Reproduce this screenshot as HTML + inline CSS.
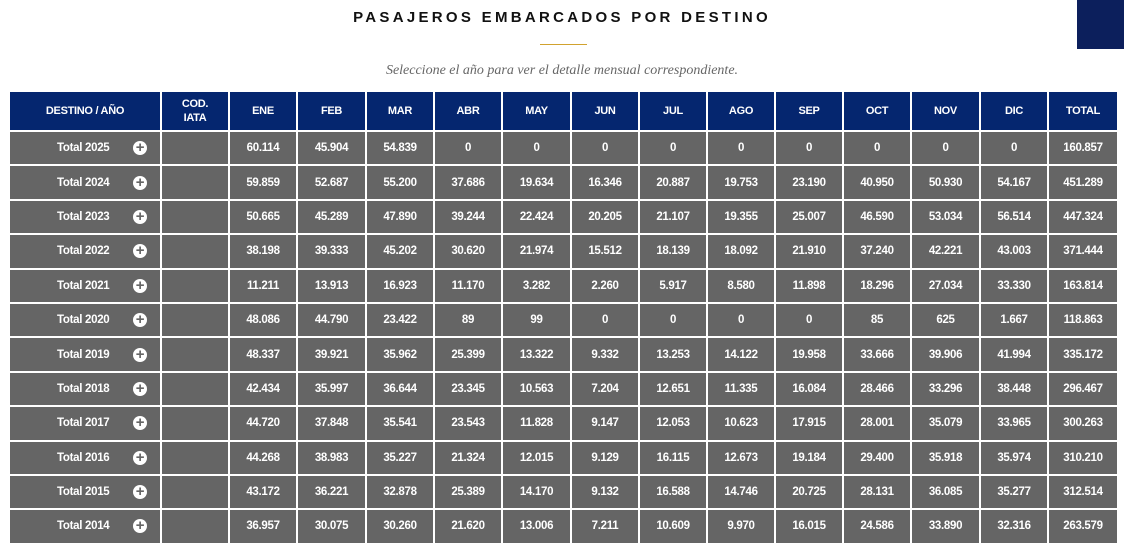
<!DOCTYPE html>
<html><head><meta charset="utf-8"><style>
body{margin:0;width:1124px;height:525px;overflow:hidden;background:#fff;font-family:"Liberation Sans",sans-serif;position:relative}
.t{position:absolute;top:9px;left:0;width:1124px;text-align:center;font-weight:bold;font-size:15px;letter-spacing:3.3px;color:#111}
.ln{position:absolute;top:44px;left:540px;width:47px;height:1px;background:#d1a22e}
.sub{position:absolute;top:63px;left:0;width:1124px;text-align:center;font-family:"Liberation Serif",serif;font-style:italic;font-size:14px;color:#666}
.sq{position:absolute;left:1077px;top:0;width:47px;height:49px;background:#0c1f5c}
.g{position:absolute;left:10px;top:92px;display:grid;grid-template-columns:150px 66px 66px 67px 66px 66px 67px 66px 66px 66px 66px 66px 67px 66px 68px;grid-template-rows:38px repeat(12,32.4px);gap:2px}
.g div{background:#656565;color:#fff;font-weight:bold;font-size:11.5px;display:flex;align-items:center;justify-content:center;letter-spacing:-0.3px}
.g div.h{background:#05266f;font-size:11px;text-align:center;line-height:14px}
.g div.f{justify-content:flex-start;padding-left:47px;position:relative}
.p{position:absolute;left:123px;top:50%;margin-top:-7px;width:14px;height:14px;border-radius:50%;background:#fff;color:#656565;font-size:15px;line-height:14px;text-align:center;font-weight:bold}
</style></head><body>
<div class="t">PASAJEROS EMBARCADOS POR DESTINO</div>
<div class="ln"></div>
<div class="sub">Seleccione el año para ver el detalle mensual correspondiente.</div>
<div class="sq"></div>
<div class="g" id="g">
<div class="h">DESTINO / AÑO</div><div class="h">COD.<br>IATA</div><div class="h">ENE</div><div class="h">FEB</div><div class="h">MAR</div><div class="h">ABR</div><div class="h">MAY</div><div class="h">JUN</div><div class="h">JUL</div><div class="h">AGO</div><div class="h">SEP</div><div class="h">OCT</div><div class="h">NOV</div><div class="h">DIC</div><div class="h">TOTAL</div>
<div class="f">Total 2025<span class="p">+</span></div><div></div><div>60.114</div><div>45.904</div><div>54.839</div><div>0</div><div>0</div><div>0</div><div>0</div><div>0</div><div>0</div><div>0</div><div>0</div><div>0</div><div>160.857</div>
<div class="f">Total 2024<span class="p">+</span></div><div></div><div>59.859</div><div>52.687</div><div>55.200</div><div>37.686</div><div>19.634</div><div>16.346</div><div>20.887</div><div>19.753</div><div>23.190</div><div>40.950</div><div>50.930</div><div>54.167</div><div>451.289</div>
<div class="f">Total 2023<span class="p">+</span></div><div></div><div>50.665</div><div>45.289</div><div>47.890</div><div>39.244</div><div>22.424</div><div>20.205</div><div>21.107</div><div>19.355</div><div>25.007</div><div>46.590</div><div>53.034</div><div>56.514</div><div>447.324</div>
<div class="f">Total 2022<span class="p">+</span></div><div></div><div>38.198</div><div>39.333</div><div>45.202</div><div>30.620</div><div>21.974</div><div>15.512</div><div>18.139</div><div>18.092</div><div>21.910</div><div>37.240</div><div>42.221</div><div>43.003</div><div>371.444</div>
<div class="f">Total 2021<span class="p">+</span></div><div></div><div>11.211</div><div>13.913</div><div>16.923</div><div>11.170</div><div>3.282</div><div>2.260</div><div>5.917</div><div>8.580</div><div>11.898</div><div>18.296</div><div>27.034</div><div>33.330</div><div>163.814</div>
<div class="f">Total 2020<span class="p">+</span></div><div></div><div>48.086</div><div>44.790</div><div>23.422</div><div>89</div><div>99</div><div>0</div><div>0</div><div>0</div><div>0</div><div>85</div><div>625</div><div>1.667</div><div>118.863</div>
<div class="f">Total 2019<span class="p">+</span></div><div></div><div>48.337</div><div>39.921</div><div>35.962</div><div>25.399</div><div>13.322</div><div>9.332</div><div>13.253</div><div>14.122</div><div>19.958</div><div>33.666</div><div>39.906</div><div>41.994</div><div>335.172</div>
<div class="f">Total 2018<span class="p">+</span></div><div></div><div>42.434</div><div>35.997</div><div>36.644</div><div>23.345</div><div>10.563</div><div>7.204</div><div>12.651</div><div>11.335</div><div>16.084</div><div>28.466</div><div>33.296</div><div>38.448</div><div>296.467</div>
<div class="f">Total 2017<span class="p">+</span></div><div></div><div>44.720</div><div>37.848</div><div>35.541</div><div>23.543</div><div>11.828</div><div>9.147</div><div>12.053</div><div>10.623</div><div>17.915</div><div>28.001</div><div>35.079</div><div>33.965</div><div>300.263</div>
<div class="f">Total 2016<span class="p">+</span></div><div></div><div>44.268</div><div>38.983</div><div>35.227</div><div>21.324</div><div>12.015</div><div>9.129</div><div>16.115</div><div>12.673</div><div>19.184</div><div>29.400</div><div>35.918</div><div>35.974</div><div>310.210</div>
<div class="f">Total 2015<span class="p">+</span></div><div></div><div>43.172</div><div>36.221</div><div>32.878</div><div>25.389</div><div>14.170</div><div>9.132</div><div>16.588</div><div>14.746</div><div>20.725</div><div>28.131</div><div>36.085</div><div>35.277</div><div>312.514</div>
<div class="f">Total 2014<span class="p">+</span></div><div></div><div>36.957</div><div>30.075</div><div>30.260</div><div>21.620</div><div>13.006</div><div>7.211</div><div>10.609</div><div>9.970</div><div>16.015</div><div>24.586</div><div>33.890</div><div>32.316</div><div>263.579</div>
</div>
</body></html>
